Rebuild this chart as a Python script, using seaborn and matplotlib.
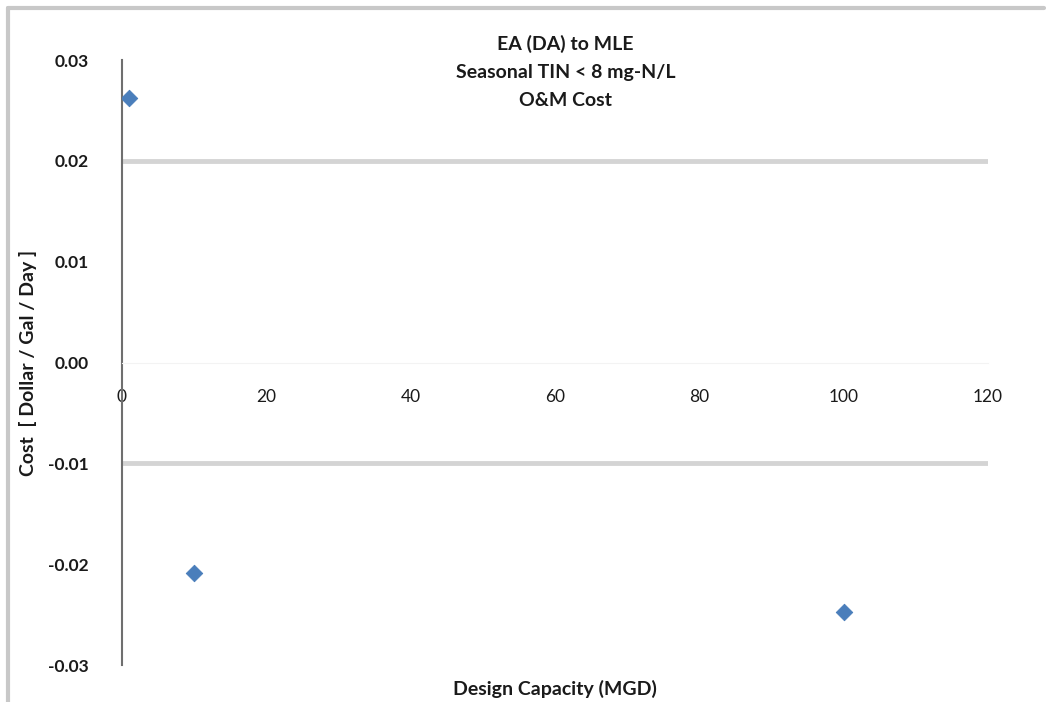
import pandas as pd
import seaborn as sns
import matplotlib.pyplot as plt
from matplotlib.lines import Line2D

# values
capacity = [1, 10, 100]
cost = [0.0262, -0.0209, -0.0247]
y_ticks = [0.03, 0.02, 0.01, 0.00, -0.01, -0.02, -0.03]
x_ticks = [0, 20, 40, 60, 80, 100, 120]
grid_at = [0.02, -0.01]

df = pd.DataFrame({'capacity': capacity, 'cost': cost})

sns.set_style('white')
plt.rcParams['font.family'] = ['Lato', 'DejaVu Sans']
plt.rcParams['axes.unicode_minus'] = False

fig = plt.figure(figsize=(10.49, 7.02), dpi=100)
ax = fig.add_axes([0.1163, 0.0527, 0.8256, 0.8618])

for g in grid_at:
    ax.axhline(g, color='#d4d4d4', lw=3.5, zorder=0)

sns.scatterplot(x='capacity', y='cost', data=df, marker='D', s=70,
                color='#4a7ebb', edgecolor='#4a7ebb', ax=ax, zorder=3)

ax.set_xlim(0, 120)
ax.set_ylim(-0.03, 0.03)
ax.set_yticks(y_ticks)
ax.set_yticklabels(['%.2f' % v for v in y_ticks], fontweight='bold')
ax.set_xticks(x_ticks)
ax.set_xticklabels([str(v) for v in x_ticks], fontweight='bold')

for s in ['top', 'right']:
    ax.spines[s].set_visible(False)
ax.spines['left'].set_color('#6f6f6f')
ax.spines['left'].set_linewidth(1.5)
ax.spines['bottom'].set_position(('data', 0))
ax.spines['bottom'].set_color('#f3f3f3')
ax.tick_params(axis='y', length=0, pad=24, labelsize=12.5, colors='#1a1a1a')
ax.tick_params(axis='x', direction='out', length=5, width=1, color='#c4c4c4',
               pad=14, labelsize=12.5, labelcolor='#1a1a1a')

ax.set_xlabel('Design Capacity (MGD)', fontsize=14, fontweight='bold', color='#1a1a1a')
ax.xaxis.set_label_coords(0.5, -0.025)
ax.set_ylabel('Cost  [ Dollar / Gal / Day ]', fontsize=14, fontweight='bold', color='#1a1a1a')
ax.yaxis.set_label_coords(-0.098, 0.5)

ax.text(0.512, 1.042, 'EA (DA) to MLE\nSeasonal TIN < 8 mg-N/L\nO&M Cost',
        transform=ax.transAxes, ha='center', va='top', fontsize=14,
        fontweight='bold', linespacing=1.8, color='#1a1a1a')

# chart frame (top and left edge)
fig.add_artist(Line2D([0.008, 0.995], [0.988, 0.988], color='#c8c8c8', lw=3,
                      transform=fig.transFigure))
fig.add_artist(Line2D([0.008, 0.008], [0.0, 0.988], color='#c8c8c8', lw=3,
                      transform=fig.transFigure))

plt.savefig('out.png', dpi=100)
